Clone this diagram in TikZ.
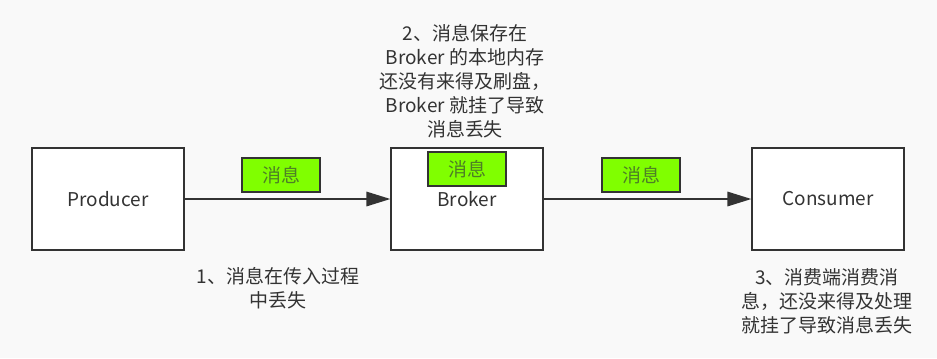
\documentclass[tikz,border=0pt]{standalone}
\usepackage{fontspec}
\setmainfont{Noto Sans CJK SC}
\usetikzlibrary{arrows.meta}
\definecolor{ink}{HTML}{333333}
\definecolor{paper}{HTML}{F9F9F9}
\definecolor{msgFill}{HTML}{80FF00}
\definecolor{msgText}{HTML}{4D7F26}
\tikzset{
    >={Triangle[length=6mm,width=3.6mm]},
    component/.style={draw=ink, fill=white, line width=1.4pt,
                      minimum width=3.78cm, minimum height=2.55cm,
                      text=ink, font=\fontsize{13.5}{17}\selectfont},
    message/.style={draw=ink, fill=msgFill, line width=1.4pt, inner sep=0pt,
                    minimum width=1.95cm, minimum height=0.85cm,
                    text=msgText, font=\fontsize{13.5}{17}\selectfont},
    send/.style={ink, line width=1.4pt, ->},
    loss note/.style={text=ink, align=center, inner sep=0pt,
                      font=\fontsize{13.5}{17}\selectfont},
}

\begin{document}
\begin{tikzpicture}[x=0.025cm, y=-0.025cm]

% background
\fill[paper] (0,0) rectangle (937,358);
\useasboundingbox (0,0) rectangle (937,358);

% ---------------------------------------------------------------------------
% components
% ---------------------------------------------------------------------------
\node[component] (producer) at (108,199) {Producer};
\node[component] (broker)   at (467,199) {Broker};
\node[component] (consumer) at (828,199) {Consumer};

\draw[send] (producer) -- (broker);
\draw[send] (broker) -- (consumer);

% messages
\node[message] (msgA) at (281,175) {消息};
\node[message] (msgB) at (467,169) {消息};
\node[message] (msgC) at (641,175) {消息};

% ---------------------------------------------------------------------------
% where messages get lost
% ---------------------------------------------------------------------------
\node[loss note] (lossA) at (278,288)
    {1、消息在传入过程\\中丢失};
\node[loss note] (lossB) at (465,81)
    {2、消息保存在\\Broker 的本地内存\\还没有来得及刷盘，\\Broker 就挂了导致\\消息丢失};
\node[loss note] (lossC) at (827,301)
    {3、消费端消费消\\息，还没来得及处理\\就挂了导致消息丢失};

\end{tikzpicture}
\end{document}
